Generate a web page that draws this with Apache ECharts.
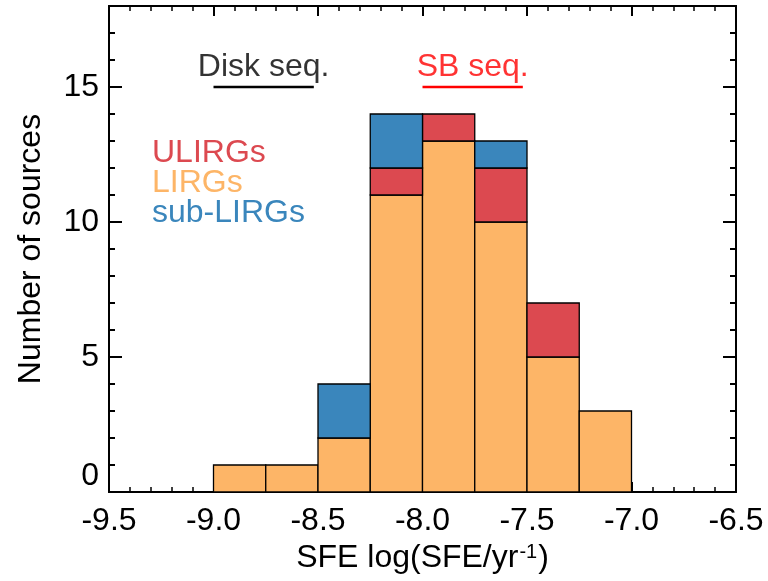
<!DOCTYPE html>
<html>
<head>
<meta charset="utf-8">
<script src="https://cdn.jsdelivr.net/npm/echarts@6/dist/echarts.min.js"></script>
<style>
	html, body {margin: 0; padding: 0; background: #fff;}
	#main {width: 768px; height: 581px;}
</style>
</head>
<body>
<div id="main"></div>
<script>
//直方图数据
var binStart = [-9.0, -8.75, -8.5, -8.25, -8.0, -7.75, -7.5, -7.25]
var binWidth = 0.25
var lirgs = [1, 1, 2, 11, 13, 10, 5, 3]
var ulirgs = [0, 0, 0, 1, 1, 2, 2, 0]
var subLirgs = [0, 0, 2, 2, 0, 1, 0, 0]

//序列标注
var diskSeq = [-9.0, -8.52]
var sbSeq = [-8.0, -7.52]
var seqLevel = 15

var font = "'Liberation Sans', Arial, Helvetica, sans-serif"
var colors = {ulirg: '#DC4950', lirg: '#FDB567', sub: '#3A86BC'}

//堆叠后的矩形 [x0, x1, y0, y1]
function buildRects(layers, idx) {
	var out = []
	for (var x = 0; x < binStart.length; x++) {
		var base = 0
		for (var k = 0; k < idx; k++) base += layers[k][x]
		var v = layers[idx][x]
		if (v > 0) out.push([binStart[x], binStart[x] + binWidth, base, base + v])
	}
	return out
}
var layers = [lirgs, ulirgs, subLirgs]

function rectSeries(name, idx, color) {
	return {
		name: name,
		type: 'custom',
		xAxisIndex: 0,
		yAxisIndex: 0,
		encode: {x: [0, 1], y: [2, 3]},
		data: buildRects(layers, idx),
		renderItem: function(params, api) {
			var p0 = api.coord([api.value(0), api.value(2)])
			var p1 = api.coord([api.value(1), api.value(3)])
			return {
				type: 'rect',
				shape: {x: p0[0], y: p1[1], width: p1[0] - p0[0], height: p0[1] - p1[1]},
				style: {fill: color, stroke: '#000', lineWidth: 1.3}
			}
		},
		z: 2
	}
}

function xAxisCfg(pos) {
	return {
		type: 'value', position: pos, min: -9.5, max: -6.5, interval: 0.5,
		axisLine: {show: true, onZero: false, lineStyle: {color: '#000', width: 2}},
		axisTick: {show: true, inside: true, length: 10, lineStyle: {color: '#000', width: 2}},
		minorTick: {show: true, splitNumber: 5, length: 5, lineStyle: {color: '#000', width: 1.5}},
		splitLine: {show: false},
		axisLabel: {
			show: pos == 'bottom', margin: 13, fontSize: 32, color: '#000', fontFamily: font,
			formatter: function(v) { return v.toFixed(1) }
		}
	}
}

function yAxisCfg(pos, interval, len, labels) {
	return {
		type: 'value', position: pos, min: 0, max: 18, interval: interval,
		axisLine: {show: true, onZero: false, lineStyle: {color: '#000', width: 2}},
		axisTick: {show: true, inside: true, length: len, lineStyle: {color: '#000', width: 2}},
		splitLine: {show: false},
		axisLabel: {
			show: labels, margin: 10, fontSize: 32, color: '#000', fontFamily: font,
			verticalAlignMinLabel: 'bottom',
			formatter: function(v) { return v % 5 == 0 ? String(v) : '' }
		}
	}
}

var xBottom = xAxisCfg('bottom')
xBottom.name = '{t|SFE log(SFE/yr}{s|-1}{t|)}'
xBottom.nameLocation = 'middle'
xBottom.nameGap = 50
xBottom.nameTextStyle = {
	rich: {
		t: {fontSize: 32, color: '#000', fontFamily: font},
		s: {fontSize: 20, color: '#000', fontFamily: font, verticalAlign: 'top', padding: [0, 1, 12, 1]}
	}
}

var yLeft = yAxisCfg('left', 5, 13, true)
yLeft.name = 'Number of sources'
yLeft.nameLocation = 'middle'
yLeft.nameGap = 62
yLeft.nameTextStyle = {fontSize: 32, color: '#000', fontFamily: font}

var chart = echarts.init(document.getElementById('main'))
chart.setOption({
	animation: false,
	backgroundColor: '#fff',
	grid: {left: 109, right: 32, top: 6, bottom: 89},
	xAxis: [xBottom, xAxisCfg('top')],
	yAxis: [yLeft, yAxisCfg('left', 1, 6, false), yAxisCfg('right', 5, 13, false), yAxisCfg('right', 1, 6, false)],
	series: [
		rectSeries('LIRGs', 0, colors.lirg),
		rectSeries('ULIRGs', 1, colors.ulirg),
		rectSeries('sub-LIRGs', 2, colors.sub),
		{
			type: 'line', symbol: 'none', silent: true,
			data: [[diskSeq[0], seqLevel], [diskSeq[1], seqLevel]],
			lineStyle: {color: '#000', width: 2.5}, z: 3
		},
		{
			type: 'line', symbol: 'none', silent: true,
			data: [[sbSeq[0], seqLevel], [sbSeq[1], seqLevel]],
			lineStyle: {color: '#FF0000', width: 2.5}, z: 3
		},
		{
			type: 'scatter', symbolSize: 0, silent: true,
			data: [
				{value: [(diskSeq[0] + diskSeq[1]) / 2, seqLevel], label: {formatter: 'Disk seq.', color: '#000'}},
				{value: [(sbSeq[0] + sbSeq[1]) / 2, seqLevel], label: {formatter: 'SB seq.', color: '#FF0000'}}
			],
			label: {show: true, position: 'top', distance: 4, fontSize: 32, fontFamily: font}
		}
	],
	graphic: [
		{type: 'text', left: 152, top: 137, style: {text: 'ULIRGs', fill: colors.ulirg, fontSize: 32, fontFamily: font}},
		{type: 'text', left: 152, top: 167, style: {text: 'LIRGs', fill: colors.lirg, fontSize: 32, fontFamily: font}},
		{type: 'text', left: 152, top: 197, style: {text: 'sub-LIRGs', fill: colors.sub, fontSize: 32, fontFamily: font}}
	]
})
</script>
</body>
</html>
